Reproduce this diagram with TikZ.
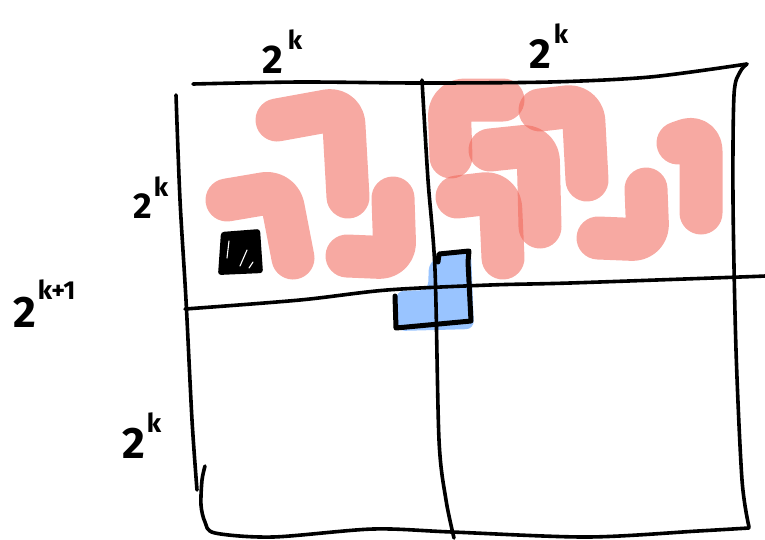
\documentclass[tikz,border=0pt]{standalone}
\usepackage{fontspec}
\setmainfont{Fira Sans}
\definecolor{tilepink}{RGB}{240,99,86}
\definecolor{trominoblue}{RGB}{153,196,255}
\newcommand\powlbl[4]{{\fontsize{#1}{#1}\selectfont 2}\hspace{#4}\raisebox{#2}{\fontsize{26}{26}\selectfont #3}}
\begin{document}
\begin{tikzpicture}[x=1pt,y=-1pt,
  ink/.style={line width=3.6pt,line cap=round,line join=round,black},
  tile/.style={line width=43pt,line cap=round,line join=round,draw=tilepink,draw opacity=0.55,rounded corners=16pt},
  lbl/.style={inner sep=0pt,anchor=base west,font=\bfseries}]
\useasboundingbox (0,0) rectangle (765,539);
% pink tiles
\draw[tile] (277,120) -- (343,108) -- (348,197);
\draw[tile] (227,200) -- (280,191) -- (293,258);
\draw[tile] (393,198) -- (395,258) -- (347,256);
\draw[tile] (451,157) -- (449,100) -- (503,100);
\draw[tile] (540,110) -- (583,105) -- (587,180);
\draw[tile] (490,150) -- (538,145) -- (540,227);
\draw[tile] (457,197) -- (500,192) -- (503,258);
\draw[tile] (646,189) -- (648,240) -- (598,238);
\draw[tile] (678,143) -- (701,135) -- (701,213);
% blue tromino
\fill[trominoblue,rounded corners=8pt] (396,291) -- (428,290) -- (429,262) -- (445,254) -- (471,251) -- (474,329) -- (397,331) -- cycle;
% black square
\fill[black,rounded corners=3pt] (221,232) -- (260,229) -- (263,273) -- (218,275) -- cycle;
\draw[white,line width=1.1pt,line cap=round] (229,241) -- (227,258) (247,250) -- (240,266) (253,262) -- (249,268);
% grid lines
\draw[ink] plot[smooth] coordinates {(193,84) (300,82) (420,83) (550,82) (650,77) (747,64)};
\draw[ink] plot[smooth] coordinates {(747,64) (740,72) (734,95) (733,200) (736,350) (742,480) (749,527)};
\draw[ink] plot[smooth] coordinates {(749,528) (698,531) (587,537) (452,532) (373,529) (273,537) (215,533) (205,522) (201,505) (202,480) (205,466)};
\draw[ink] plot[smooth] coordinates {(176,95) (180,200) (186,300) (192,420) (197,490)};
\draw[ink] plot[smooth] coordinates {(422,80) (428,180) (435,270) (439,440) (446,500) (454,538)};
\draw[ink] plot[smooth] coordinates {(185,309) (300,300) (387,290) (490,285) (570,283) (740,277) (765,276)};
% tromino outline
\draw[line width=5pt,line cap=round,line join=round] (395,296) -- (396,328) -- (471,321) -- (468,262) -- (469,251) -- (439,254) -- (438,262);
% labels
\node[lbl] (topleft) at (262,73) {\powlbl{40}{24pt}{k}{5pt}};
\node[lbl] (topright) at (529,68) {\powlbl{42}{25pt}{k}{3pt}};
\node[lbl] (leftk) at (133,218) {\powlbl{36}{22pt}{k}{2pt}};
\node[lbl] (lowk) at (122,458) {\powlbl{44}{26pt}{k}{2pt}};
\node[lbl] (bigk) at (13,327) {\powlbl{44}{28pt}{k+1}{2pt}};
\end{tikzpicture}
\end{document}
